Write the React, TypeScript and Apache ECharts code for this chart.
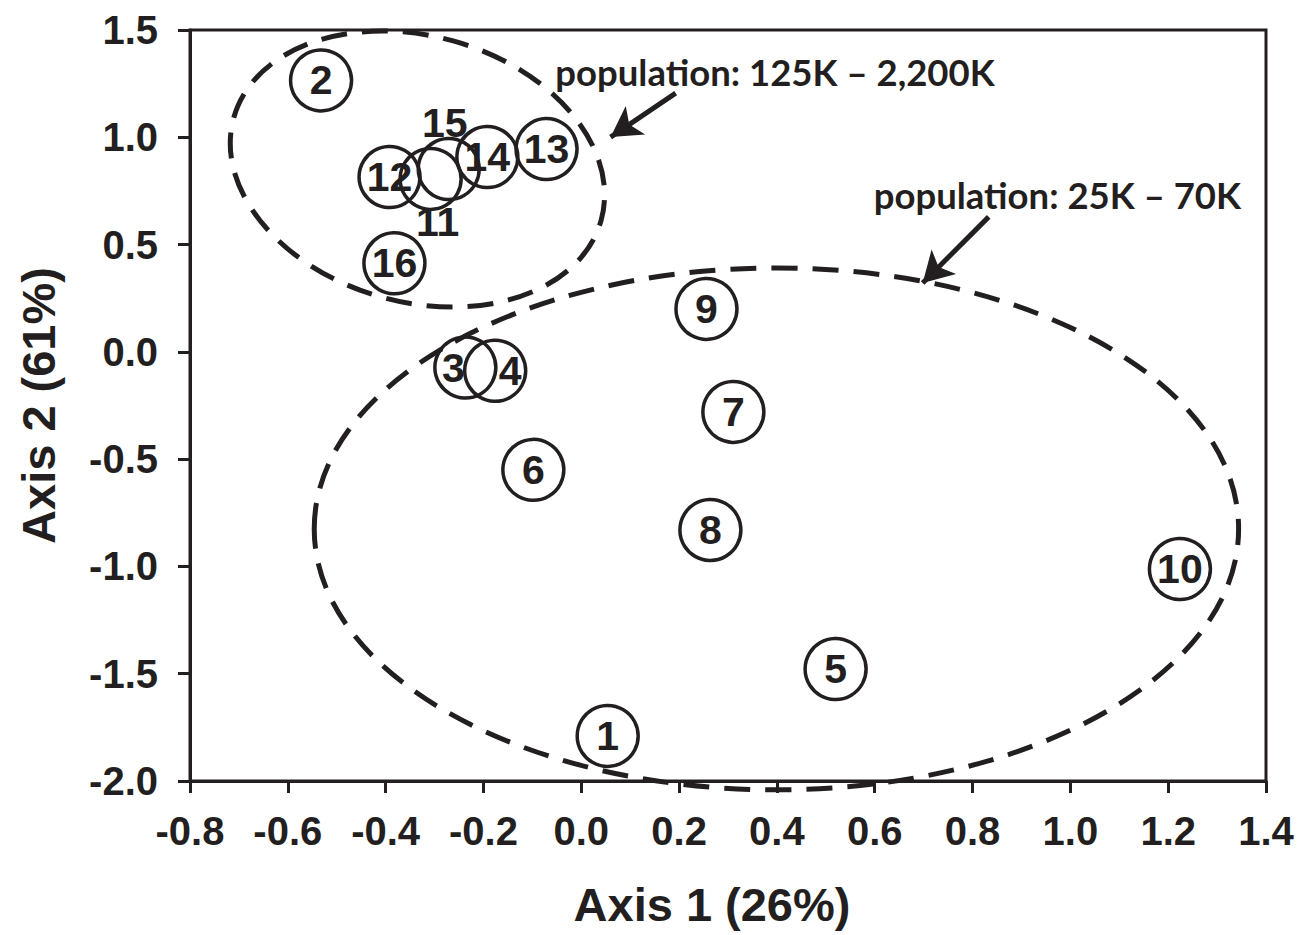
import React, { useEffect, useRef } from "react";
import * as echarts from "echarts";

// Site identifiers and ordination scores
const siteIds = ["1", "2", "3", "4", "5", "6", "7", "8", "9", "10", "11", "12", "13", "14", "15", "16"];
const axis1Scores = [0.054, -0.532, -0.237, -0.176, 0.52, -0.098, 0.311, 0.264, 0.256, 1.224, -0.308, -0.392, -0.071, -0.192, -0.271, -0.382];
const axis2Scores = [-1.79, 1.265, -0.073, -0.088, -1.478, -0.55, -0.28, -0.83, 0.2, -1.012, 0.806, 0.815, 0.945, 0.908, 0.852, 0.413];

// Axis ranges
const xRange = [-0.8, 1.4];
const xStep = 0.2;
const yRange = [-2.0, 1.5];
const yStep = 0.5;

const xTitle = "Axis 1 (26%)";
const yTitle = "Axis 2 (61%)";

// Annotations (data coordinates)
const groupLabels = ["population: 125K \u2013 2,200K", "population: 25K \u2013 70K"];
const groupLabelAnchors = [[-0.053, 1.304], [0.598, 0.731]];
const arrowTails = [[0.193, 1.206], [0.833, 0.629]];
const arrowHeads = [[0.06, 1.001], [0.698, 0.321]];
// Ellipses: centre (data), half-extent along x (data), along y (data), rotation (deg, clockwise)
const ellipseCentres = [[-0.335, 0.852], [0.399, -0.825]];
const ellipseRadiiX = [0.39, 0.945];
const ellipseRadiiY = [0.62, 1.216];
const ellipseTilt = [15.6, 0];

// label displacement for overlapping circles
const labelShift: Record<string, number[]> = {
  "3": [-12, 0],
  "4": [15, 0],
  "11": [7, 43],
  "15": [-4, -46],
};

const INK = "#231f20";
const FONT = "'Liberation Sans', Arial, Helvetica, sans-serif";

export default function App() {
  const ref = useRef<HTMLDivElement>(null);

  useEffect(() => {
    if (!ref.current) return;
    const chart = echarts.init(ref.current, undefined, { renderer: "svg" });

    const data = siteIds.map((id, i) => {
      const shift = labelShift[id];
      const item: any = { name: id, value: [axis1Scores[i], axis2Scores[i]] };
      if (shift) item.label = { offset: shift };
      return item;
    });

    chart.setOption({
      animation: false,
      grid: {
        left: 190,
        right: 31,
        top: 30,
        bottom: 154,
        show: true,
        borderColor: INK,
        borderWidth: 3,
        backgroundColor: "transparent",
      },
      xAxis: {
        type: "value",
        min: xRange[0],
        max: xRange[1],
        interval: xStep,
        name: xTitle,
        nameLocation: "middle",
        nameGap: 100,
        nameTextStyle: {
          fontFamily: FONT,
          fontWeight: "bold",
          fontSize: 47,
          color: INK,
          padding: [0, 32, 0, 0],
        },
        axisLine: { show: true, onZero: false, lineStyle: { color: INK, width: 3 } },
        axisTick: { show: true, inside: false, length: 12, lineStyle: { color: INK, width: 3 } },
        splitLine: { show: false },
        axisLabel: {
          margin: 30,
          fontFamily: FONT,
          fontWeight: "bold",
          fontSize: 40,
          color: INK,
          formatter: (v: number) => v.toFixed(1),
        },
      },
      yAxis: {
        type: "value",
        min: yRange[0],
        max: yRange[1],
        interval: yStep,
        name: yTitle,
        nameLocation: "middle",
        nameRotate: 90,
        nameGap: 128,
        nameTextStyle: {
          fontFamily: FONT,
          fontWeight: "bold",
          fontSize: 47,
          color: INK,
        },
        axisLine: { show: true, onZero: false, lineStyle: { color: INK, width: 3 } },
        axisTick: { show: true, inside: false, length: 12, lineStyle: { color: INK, width: 3 } },
        splitLine: { show: false },
        axisLabel: {
          margin: 32,
          fontFamily: FONT,
          fontWeight: "bold",
          fontSize: 40,
          color: INK,
          formatter: (v: number) => v.toFixed(1),
        },
      },
      series: [
        {
          type: "scatter",
          symbol: "circle",
          symbolSize: 61,
          data,
          itemStyle: { color: "rgba(0,0,0,0)", borderColor: INK, borderWidth: 3.5, opacity: 1 },
          label: {
            show: true,
            position: "inside",
            formatter: (p: any) => p.name,
            fontFamily: FONT,
            fontWeight: "bold",
            fontSize: 41,
            color: INK,
          },
          emphasis: { disabled: true },
          markLine: {
            silent: true,
            symbol: ["none", "arrow"],
            symbolSize: [26, 30],
            label: { show: false },
            lineStyle: { color: INK, width: 5, type: "solid" },
            emphasis: { disabled: true },
            data: arrowTails.map((t, i) => [{ coord: t }, { coord: arrowHeads[i] }]),
          },
        },
      ],
    });

    const toPx = (p: number[]) => chart.convertToPixel({ gridIndex: 0 }, p) as number[];
    const origin = toPx([0, 0]);
    const unitX = toPx([1, 0])[0] - origin[0];
    const unitY = origin[1] - toPx([0, 1])[1];

    const graphics: any[] = [];
    ellipseCentres.forEach((c, i) => {
      const p = toPx(c);
      graphics.push({
        type: "ellipse",
        x: p[0],
        y: p[1],
        rotation: (-ellipseTilt[i] * Math.PI) / 180,
        shape: { cx: 0, cy: 0, rx: ellipseRadiiX[i] * unitX, ry: ellipseRadiiY[i] * unitY },
        style: { fill: "none", stroke: INK, lineWidth: 5, lineDash: [26, 15] },
        silent: true,
        z: 10,
      });
    });
    groupLabels.forEach((t, i) => {
      const p = toPx(groupLabelAnchors[i]);
      graphics.push({
        type: "text",
        x: p[0],
        y: p[1],
        style: {
          text: t,
          fill: INK,
          font: "bold 36.5px Lato, 'Open Sans', sans-serif",
          textAlign: "left",
          textVerticalAlign: "middle",
        },
        silent: true,
        z: 10,
      });
    });
    chart.setOption({ graphic: graphics });

    return () => chart.dispose();
  }, []);

  return (
    <div
      ref={ref}
      style={{ position: "fixed", left: 0, top: 0, width: 1297, height: 935, background: "#fff" }}
    />
  );
}
